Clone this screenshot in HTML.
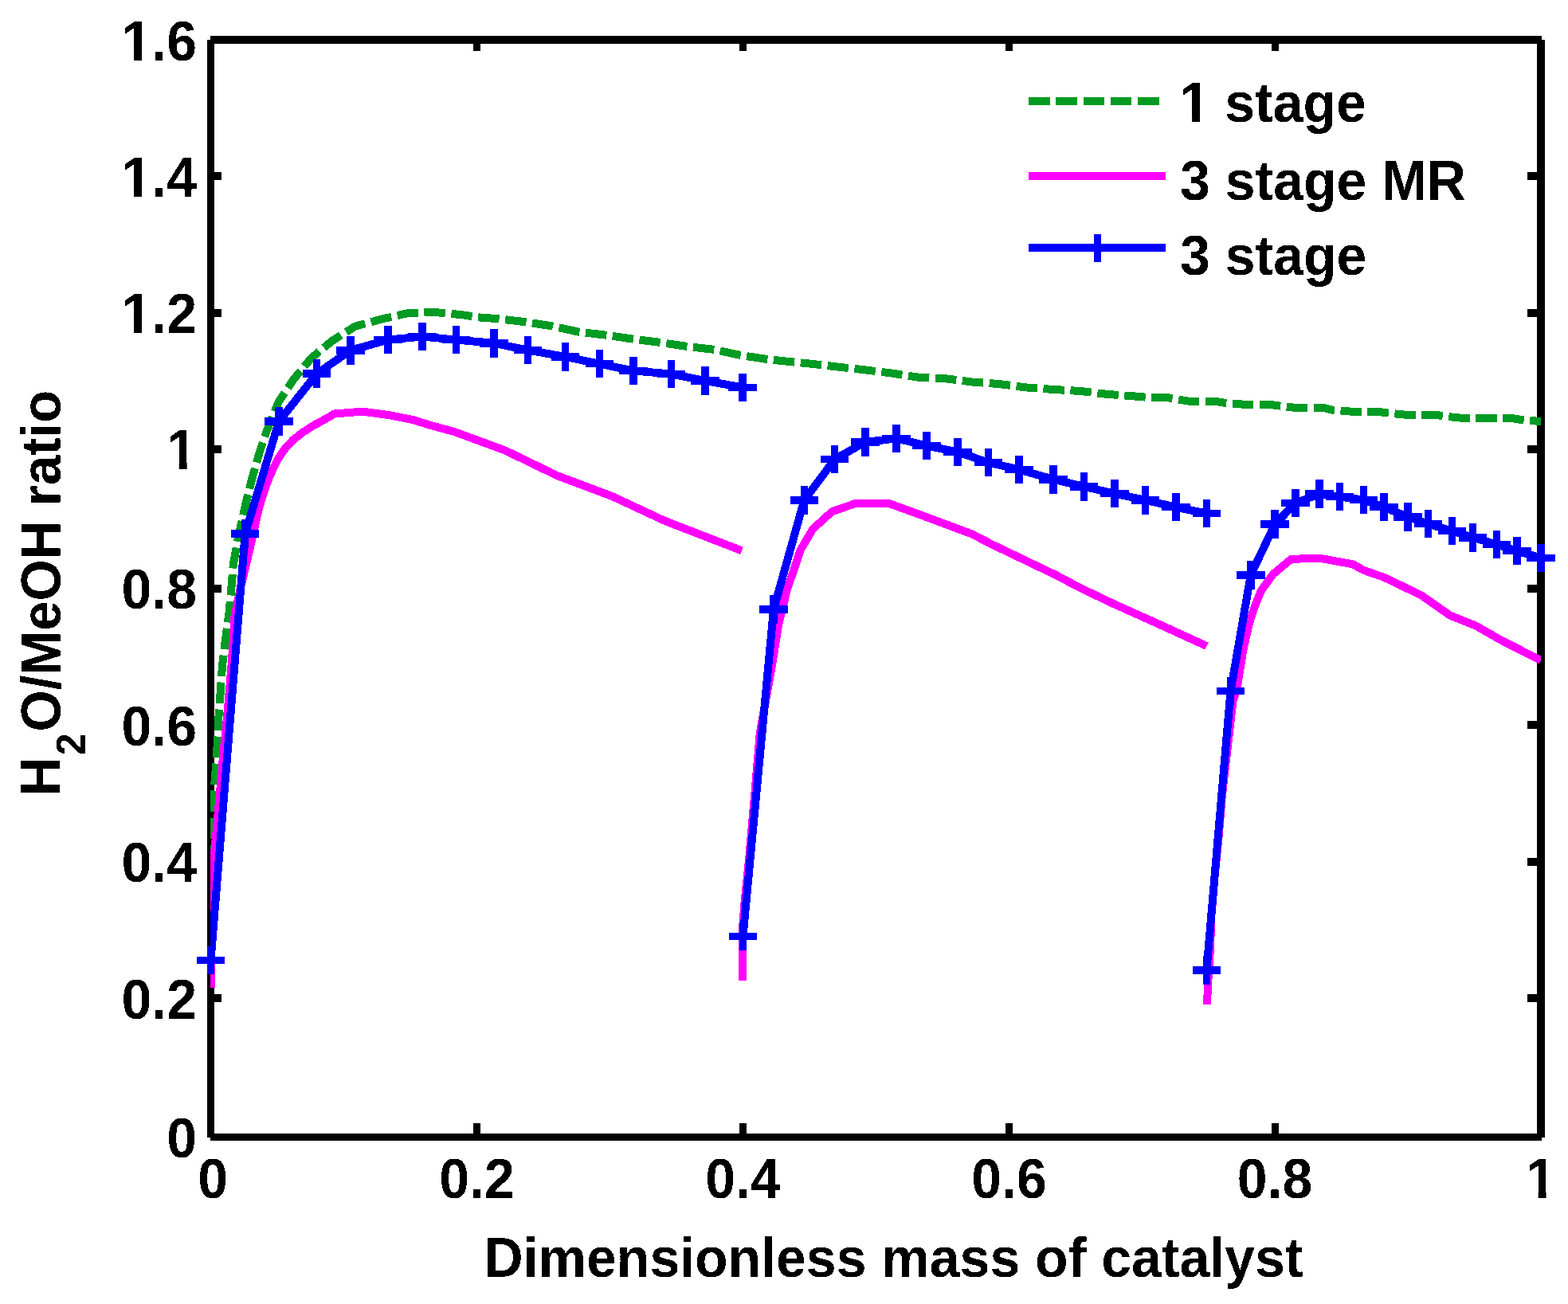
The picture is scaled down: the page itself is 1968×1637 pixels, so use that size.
<!DOCTYPE html>
<html><head><meta charset="utf-8"><title>H2O/MeOH ratio plot</title>
<style>html,body{margin:0;padding:0;background:#fff;overflow:hidden}svg{display:block}</style>
</head><body><svg width="1968" height="1637" viewBox="0 0 1968 1637"><rect x="0" y="0" width="1968" height="1637" fill="#fff"/><g fill="#000" shape-rendering="crispEdges"><rect x="260" y="50" width="9" height="1378"/><rect x="1929" y="50" width="10" height="1378"/><rect x="264" y="45" width="1671" height="10"/><rect x="264" y="1423" width="1671" height="9"/><rect x="594" y="1410" width="9" height="13"/><rect x="594" y="55" width="9" height="9"/><rect x="928" y="1410" width="9" height="13"/><rect x="928" y="55" width="9" height="9"/><rect x="1262" y="1410" width="9" height="13"/><rect x="1262" y="55" width="9" height="9"/><rect x="1596" y="1410" width="9" height="13"/><rect x="1596" y="55" width="9" height="9"/><rect x="269" y="216" width="9" height="10"/><rect x="1917" y="216" width="12" height="10"/><rect x="269" y="387.5" width="9" height="10"/><rect x="1917" y="387.5" width="12" height="10"/><rect x="269" y="559" width="9" height="10"/><rect x="1917" y="559" width="12" height="10"/><rect x="269" y="734" width="9" height="10"/><rect x="1917" y="734" width="12" height="10"/><rect x="269" y="905" width="9" height="10"/><rect x="1917" y="905" width="12" height="10"/><rect x="269" y="1076.5" width="9" height="10"/><rect x="1917" y="1076.5" width="12" height="10"/><rect x="269" y="1247.5" width="9" height="10"/><rect x="1917" y="1247.5" width="12" height="10"/></g><defs><filter id="bin" x="0" y="0" width="1" height="1" color-interpolation-filters="sRGB"><feComponentTransfer><feFuncA type="discrete" tableValues="0 1"/></feComponentTransfer></filter><clipPath id="c"><rect x="264" y="50" width="1670" height="1378"/></clipPath></defs><g clip-path="url(#c)" fill="none" stroke-width="10" stroke-linejoin="round" stroke-linecap="butt" shape-rendering="crispEdges"><polyline points="264.5,1215 266,1075 267.8,1000 270.2,973.3 272.5,938.4 274.1,905 276.5,871.7 278.9,836.8 282.9,803.5 287.6,768.6 290.4,738 292.8,708.7 298.9,675.1 308,634 316.4,600.4 325.5,568.4 334.7,541 349.8,504.1 368.1,476.7 391,449.3 416.9,427.9 445.9,409.6 479.4,400.5 512.9,392.9 546.5,392.1 580,395.2 600,398.3 626.4,400.3 661,404.4 693.5,409.5 726,416.6 760.6,420.7 795,425.7 827.6,429.8 862.2,434.9 896.7,438.9 929.3,446 963.8,451.1 980,452.9 1018.1,456.7 1051.1,460.5 1085.4,464.3 1119.7,468.6 1152.8,473.7 1185.8,475.2 1220.1,479.5 1254.4,482.1 1287.4,486.4 1321.7,488.9 1356,491 1389,494.8 1422.1,497.3 1443.8,499.2 1465.4,499.2 1490.8,503.5 1523.8,503.5 1536.5,505.6 1559.4,507.6 1592.4,507.6 1605.1,509.4 1625.5,511.9 1661,511.9 1671.2,514.5 1694,516.5 1727.1,516.5 1739.8,518.3 1765.2,520.8 1800.8,520.8 1821.1,523.4 1836.3,524.9 1897.3,524.9 1910,527.2 1934,529" stroke="#009b23" stroke-dasharray="26.5 7.57" stroke-dashoffset="8.4"/><polyline points="264.5,1240 264.5,1150 266.5,1100 271,1050 275.5,1000 280,950 285,900 289.4,850 292,814.6 294.5,773 301,742 311,700 314.9,683.2 322.9,646.6 327.8,628.3 332.6,613.6 337.5,600.2 343,588 349,575.7 357.5,563.5 367.5,552.5 380,542.8 393.5,534.2 412.5,523.8 419.5,519.5 455.1,516.6 488.7,521.2 519.1,527.3 540,533.8 569.9,541.9 633.9,565.4 700,597.4 768.3,623 834.5,653.9 931,691.3" stroke="#ff00ff"/><polyline points="932,1231 932.5,1160 934.7,1131 940,1080 947.5,994 953.8,920 968.5,838 977.3,783 988.2,739 995.9,717 1004.7,690.5 1020.1,664.2 1044.3,642.2 1072.8,632.3 1116.8,632.3 1159.2,647.8 1219.6,670.3 1246,683.9 1285,702.6 1325.7,722.1 1355,737.6 1395.6,757.1 1451,782 1514.5,811" stroke="#ff00ff"/><polyline points="1515,1261 1516,1237 1519,1190 1520.5,1148.5 1524.7,1099 1529.6,1049.5 1533.7,1000 1537.7,965 1547.5,880 1552.5,864.7 1560.1,817.3 1567.7,783.2 1575.2,760.5 1582.8,741.5 1598,720.7 1620.7,701.8 1656.7,700.8 1698.4,708.4 1710.6,715.5 1737.6,725 1783.7,747.2 1820.2,772.7 1852,785.4 1885.4,804.4 1934,829" stroke="#ff00ff"/><polyline points="264.5,1205.5 307.7,670 350,529.2 397.5,469.2 440,439.8 487,426.6 530,422.5 572.5,426.6 620,430.8 662.5,439.6 709.5,447.9 752.4,456.7 795,465.5 842.5,469.5 885,477.9 932,486.5" stroke="#0000ff"/><polyline points="932.5,1175.4 971,764.9 1009.3,628 1047.7,576.5 1086,555 1125.2,550.4 1163.2,559.5 1202.1,567.5 1240.6,580.6 1279,589.5 1322,601.8 1360.5,610.8 1399,619.7 1437.5,627.8 1476,636.7 1514.5,644.6" stroke="#0000ff"/><polyline points="1514.4,1217.8 1544.5,867.6 1569.8,722 1600,658.2 1626,631.7 1656,620 1681.6,623.6 1711.5,627.6 1737,636.6 1767,649 1792.5,657.6 1822.5,666.6 1848.5,674.8 1878.6,683.5 1904,691.7 1934,700.5" stroke="#0000ff"/></g><path d="M246.75 1205.5h35.5M264.5 1187.75v35.5M289.95 670h35.5M307.7 652.25v35.5M332.25 529.2h35.5M350 511.45v35.5M379.75 469.2h35.5M397.5 451.45v35.5M422.25 439.8h35.5M440 422.05v35.5M469.25 426.6h35.5M487 408.85v35.5M512.25 422.5h35.5M530 404.75v35.5M554.75 426.6h35.5M572.5 408.85v35.5M602.25 430.8h35.5M620 413.05v35.5M644.75 439.6h35.5M662.5 421.85v35.5M691.75 447.9h35.5M709.5 430.15v35.5M734.65 456.7h35.5M752.4 438.95v35.5M777.25 465.5h35.5M795 447.75v35.5M824.75 469.5h35.5M842.5 451.75v35.5M867.25 477.9h35.5M885 460.15v35.5M914.25 486.5h35.5M932 468.75v35.5M914.75 1175.4h35.5M932.5 1157.65v35.5M953.25 764.9h35.5M971 747.15v35.5M991.55 628h35.5M1009.3 610.25v35.5M1029.95 576.5h35.5M1047.7 558.75v35.5M1068.25 555h35.5M1086 537.25v35.5M1107.45 550.4h35.5M1125.2 532.65v35.5M1145.45 559.5h35.5M1163.2 541.75v35.5M1184.35 567.5h35.5M1202.1 549.75v35.5M1222.85 580.6h35.5M1240.6 562.85v35.5M1261.25 589.5h35.5M1279 571.75v35.5M1304.25 601.8h35.5M1322 584.05v35.5M1342.75 610.8h35.5M1360.5 593.05v35.5M1381.25 619.7h35.5M1399 601.95v35.5M1419.75 627.8h35.5M1437.5 610.05v35.5M1458.25 636.7h35.5M1476 618.95v35.5M1496.75 644.6h35.5M1514.5 626.85v35.5M1496.65 1217.8h35.5M1514.4 1200.05v35.5M1526.75 867.6h35.5M1544.5 849.85v35.5M1552.05 722h35.5M1569.8 704.25v35.5M1582.25 658.2h35.5M1600 640.45v35.5M1608.25 631.7h35.5M1626 613.95v35.5M1638.25 620h35.5M1656 602.25v35.5M1663.85 623.6h35.5M1681.6 605.85v35.5M1693.75 627.6h35.5M1711.5 609.85v35.5M1719.25 636.6h35.5M1737 618.85v35.5M1749.25 649h35.5M1767 631.25v35.5M1774.75 657.6h35.5M1792.5 639.85v35.5M1804.75 666.6h35.5M1822.5 648.85v35.5M1830.75 674.8h35.5M1848.5 657.05v35.5M1860.85 683.5h35.5M1878.6 665.75v35.5M1886.25 691.7h35.5M1904 673.95v35.5M1916.25 700.5h35.5M1934 682.75v35.5" fill="none" stroke="#0000ff" stroke-width="9.5" stroke-linecap="butt" shape-rendering="crispEdges"/><g shape-rendering="crispEdges"><line x1="1291" y1="127" x2="1455" y2="127" stroke="#009b23" stroke-width="10" stroke-dasharray="26.6 7.65"/><line x1="1291" y1="221" x2="1463" y2="221" stroke="#ff00ff" stroke-width="10"/><line x1="1291" y1="311" x2="1463" y2="311" stroke="#0000ff" stroke-width="10"/><path d="M1377.5 293.5v35" stroke="#0000ff" stroke-width="9.5"/></g><g font-family="'Liberation Sans', Arial, Helvetica, sans-serif" font-weight="bold" fill="#000" filter="url(#bin)"><text transform="translate(247,75.9) scale(1,1.045)" text-anchor="end" font-size="68">1.6</text><text transform="translate(247,246.9) scale(1,1.045)" text-anchor="end" font-size="68">1.4</text><text transform="translate(247,418) scale(1,1.045)" text-anchor="end" font-size="68">1.2</text><text transform="translate(247,588.9) scale(1,1.045)" text-anchor="end" font-size="68">1</text><text transform="translate(247,764) scale(1,1.045)" text-anchor="end" font-size="68">0.8</text><text transform="translate(247,935.5) scale(1,1.045)" text-anchor="end" font-size="68">0.6</text><text transform="translate(247,1106.5) scale(1,1.045)" text-anchor="end" font-size="68">0.4</text><text transform="translate(247,1279) scale(1,1.045)" text-anchor="end" font-size="68">0.2</text><text transform="translate(247,1453) scale(1,1.045)" text-anchor="end" font-size="68">0</text><text transform="translate(267.2,1503.5) scale(1,1.045)" text-anchor="middle" font-size="68">0</text><text transform="translate(598.5,1503.5) scale(1,1.045)" text-anchor="middle" font-size="68">0.2</text><text transform="translate(932.5,1503.5) scale(1,1.045)" text-anchor="middle" font-size="68">0.4</text><text transform="translate(1266.5,1503.5) scale(1,1.045)" text-anchor="middle" font-size="68">0.6</text><text transform="translate(1600,1503.5) scale(1,1.045)" text-anchor="middle" font-size="68">0.8</text><text transform="translate(1934,1503.5) scale(1,1.045)" text-anchor="middle" font-size="68">1</text><text transform="translate(1121.5,1603) scale(1,1.045)" text-anchor="middle" font-size="68">Dimensionless mass of catalyst</text><text transform="translate(1480.5,153) scale(1,1.045)" text-anchor="start" font-size="68">1 stage</text><text transform="translate(1481,251) scale(1,1.045)" text-anchor="start" font-size="68">3 stage MR</text><text transform="translate(1481,345) scale(1,1.045)" text-anchor="start" font-size="68">3 stage</text><text transform="translate(75,999.5) rotate(-90) scale(1,1.045)" font-size="68">H</text><text transform="translate(107,948.2) rotate(-90) scale(1,1.045)" font-size="50">2</text><text transform="translate(75.5,918.5) rotate(-90) scale(1,1.045)" font-size="67.1">O/MeOH ratio</text></g><g fill="#fff"><rect x="155.46" y="67.25" width="12.58" height="10.15"/><rect x="177.97" y="67.25" width="11.99" height="10.15"/><rect x="155.46" y="238.25" width="12.58" height="10.15"/><rect x="177.97" y="238.25" width="11.99" height="10.15"/><rect x="155.46" y="409.35" width="12.58" height="10.15"/><rect x="177.97" y="409.35" width="11.99" height="10.15"/><rect x="212.17" y="580.25" width="12.58" height="10.15"/><rect x="234.68" y="580.25" width="11.99" height="10.15"/><rect x="1918.08" y="1494.85" width="12.58" height="10.15"/><rect x="1940.59" y="1494.85" width="11.99" height="10.15"/><rect x="1483.49" y="144.35" width="12.58" height="10.15"/><rect x="1506.00" y="144.35" width="11.99" height="10.15"/></g></svg></body></html>
